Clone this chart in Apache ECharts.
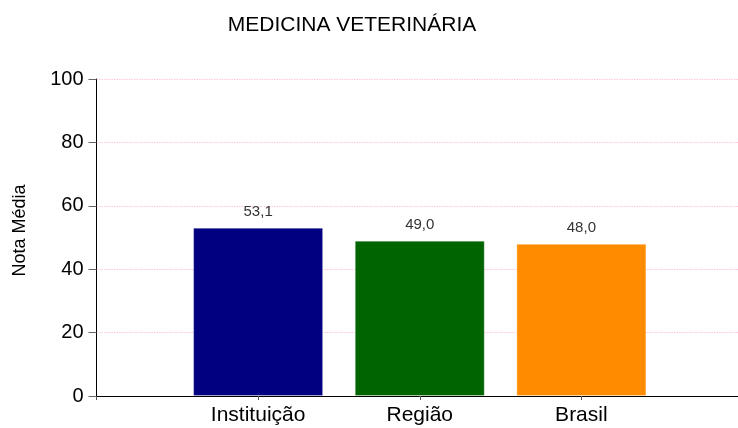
<!DOCTYPE html>
<html>
<head>
<meta charset="utf-8">
<script src="https://cdn.jsdelivr.net/npm/echarts@6/dist/echarts.min.js"></script>
<style>
html,body{margin:0;padding:0;background:#fff;overflow:hidden;width:738px;height:428px;}
#chart{width:746px;height:428px;}
</style>
</head>
<body>
<div id="chart"></div>
<script>
const title = 'MEDICINA VETERINÁRIA';
const categories = ['Instituição', 'Região', 'Brasil'];
const values = [53.1, 49.0, 48.0];
const barColors = ['#000080', '#006400', '#FF8C00'];
const yTicks = [0, 20, 40, 60, 80, 100];

const axisCats = [''].concat(categories, ['']);
const barData = [null].concat(values.map((v, i) => ({
  value: v,
  itemStyle: { color: barColors[i] }
})), [null]);

const chart = echarts.init(document.getElementById('chart'), null, { renderer: 'canvas' });
chart.setOption({
  animation: false,
  backgroundColor: '#ffffff',
  textStyle: { fontFamily: 'Liberation Sans, Arial, sans-serif' },
  title: {
    text: title,
    left: 347, top: 10,
    textAlign: 'center',
    textStyle: { fontSize: 21, fontWeight: 'normal', color: '#000', fontFamily: 'Liberation Sans, Arial, sans-serif' }
  },
  grid: { left: 96.5, top: 79, width: 648, bottom: 32, containLabel: false },
  xAxis: {
    type: 'category',
    data: axisCats,
    boundaryGap: false,
    axisLine: { lineStyle: { color: '#000', width: 1 } },
    axisTick: { show: true, length: 4, lineStyle: { color: '#555' } },
    axisLabel: { fontSize: 21, color: '#000', margin: 9, interval: 0, fontFamily: 'Liberation Sans, Arial, sans-serif' },
    splitLine: { show: false }
  },
  yAxis: {
    type: 'value',
    min: yTicks[0], max: yTicks[yTicks.length - 1], interval: 20,
    name: 'Nota Média',
    nameLocation: 'middle',
    nameGap: 67,
    nameTextStyle: { fontSize: 18, color: '#000', padding: [0, 0, 0, 14], fontFamily: 'Liberation Sans, Arial, sans-serif' },
    axisLine: { show: true, lineStyle: { color: '#000', width: 1 } },
    axisTick: { show: true, length: 8, lineStyle: { color: '#666' } },
    axisLabel: { fontSize: 20, color: '#000', margin: 13, fontFamily: 'Liberation Sans, Arial, sans-serif' },
    splitLine: { show: true, lineStyle: { color: '#FFCAD3', type: [1.5, 1], width: 1 } }
  },
  series: [{
    type: 'bar',
    data: barData,
    barWidth: 130,
    itemStyle: { borderColor: 'rgba(255,255,255,0.3)', borderWidth: 1 },
    label: {
      show: true,
      position: 'top',
      distance: 8,
      fontSize: 15,
      color: '#333',
      fontFamily: 'Liberation Sans, Arial, sans-serif',
      formatter: p => p.value == null ? '' : p.value.toFixed(1).replace('.', ',')
    }
  }]
});
</script>
</body>
</html>
